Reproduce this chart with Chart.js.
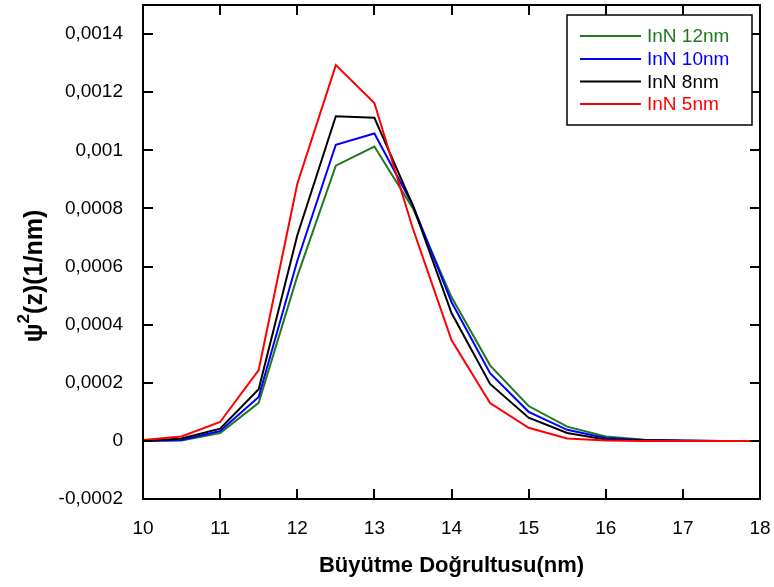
<!DOCTYPE html>
<html><head><meta charset="utf-8">
<script src="https://cdn.jsdelivr.net/npm/chart.js@4/dist/chart.umd.min.js"></script>
<style>html,body{margin:0;padding:0;background:#fff}#wrap{width:774px;height:587px}</style>
</head><body><div id="wrap"><canvas id="c" width="774" height="587"></canvas></div>
<script>
const xValues = [10,10.5,11,11.5,12,12.5,13,13.5,14,14.5,15,15.5,16,16.5,17,17.5,18];
const inn12 = [0,0.000001,0.000027,0.000131,0.000566,0.000947,0.001013,0.0008,0.000495,0.00026,0.00012,0.000049,0.000015,0.000004,0.000001,0,0];
const inn10 = [0,0.000003,0.000034,0.000151,0.000619,0.001019,0.001058,0.00081,0.000478,0.000233,0.0001,0.000038,0.00001,0.000003,0.000001,0,0];
const inn8  = [0,0.000008,0.000042,0.000178,0.000707,0.001117,0.001112,0.00081,0.00044,0.000196,0.00008,0.000027,0.000005,0.000002,0,0,0];
const inn5  = [0.000003,0.000015,0.000065,0.000244,0.000884,0.001293,0.001163,0.00073,0.000347,0.00013,0.000045,0.000008,0.000001,0,0,0,0];
const seriesLabels = ['InN 12nm','InN 10nm','InN 8nm','InN 5nm'];
const seriesColors = ['#1e7a1e','#0000ff','#000000','#ff0000'];
const xTicks = [10,11,12,13,14,15,16,17,18];
const yTicks = [-0.0002,0,0.0002,0.0004,0.0006,0.0008,0.001,0.0012,0.0014];
const yTickLabels = ['-0,0002','0','0,0002','0,0004','0,0006','0,0008','0,001','0,0012','0,0014'];
const xTitle = 'Büyütme Doğrultusu(nm)';
const yTitleParts = ['ψ', '2', '(z)(1/nm)'];

const seriesData = [inn12, inn10, inn8, inn5];
const datasets = seriesData.map((arr, i) => ({
  label: seriesLabels[i],
  data: arr.map((v, j) => ({x: xValues[j], y: v})),
  borderColor: seriesColors[i],
  backgroundColor: seriesColors[i],
  borderWidth: 2,
  pointRadius: 0,
  tension: 0,
  fill: false,
  order: seriesData.length - i
}));

const FONT = '"Liberation Sans", Arial, sans-serif';

const framePlugin = {
  id: 'frame',
  afterDraw(chart) {
    const {ctx, chartArea: a, scales: {x, y}} = chart;
    ctx.save();
    ctx.strokeStyle = '#000';
    ctx.lineWidth = 2;
    ctx.strokeRect(a.left, a.top, a.right - a.left, a.bottom - a.top);
    const L = 10;
    ctx.beginPath();
    xTicks.forEach(v => {
      const px = Math.round(x.getPixelForValue(v));
      ctx.moveTo(px, a.bottom); ctx.lineTo(px, a.bottom - L);
      ctx.moveTo(px, a.top); ctx.lineTo(px, a.top + L);
    });
    yTicks.forEach(v => {
      const py = Math.round(y.getPixelForValue(v));
      ctx.moveTo(a.left, py); ctx.lineTo(a.left + L, py);
      ctx.moveTo(a.right, py); ctx.lineTo(a.right - L, py);
    });
    ctx.stroke();

    // legend
    const bx = 567, by = 15, bw = 185, bh = 110;
    ctx.fillStyle = '#fff';
    ctx.fillRect(bx, by, bw, bh);
    ctx.lineWidth = 1.5;
    ctx.strokeRect(bx, by, bw, bh);
    ctx.font = '19px ' + FONT;
    ctx.textBaseline = 'middle';
    ctx.textAlign = 'left';
    const rows = [36, 59, 81.5, 104];
    chart.data.datasets.forEach((ds, i) => {
      const ry = rows[i];
      ctx.strokeStyle = ds.borderColor;
      ctx.lineWidth = 2;
      ctx.beginPath();
      ctx.moveTo(580, ry); ctx.lineTo(641, ry);
      ctx.stroke();
      ctx.fillStyle = ds.borderColor;
      ctx.fillText(ds.label, 647, ry + 1);
    });

    // y title (rotated, with superscript)
    ctx.translate(34, 276);
    ctx.rotate(-Math.PI / 2);
    ctx.fillStyle = '#000';
    ctx.textBaseline = 'alphabetic';
    ctx.textAlign = 'left';
    const big = 'bold 25px ' + FONT, small = 'bold 17px ' + FONT;
    ctx.font = big; const w0 = ctx.measureText(yTitleParts[0]).width;
    ctx.font = small; const w1 = ctx.measureText(yTitleParts[1]).width;
    ctx.font = big; const w2 = ctx.measureText(yTitleParts[2]).width;
    let cx = -(w0 + w1 + w2) / 2;
    const base = 8;
    ctx.font = big; ctx.fillText(yTitleParts[0], cx, base); cx += w0;
    ctx.font = small; ctx.fillText(yTitleParts[1], cx, base - 13); cx += w1;
    ctx.font = big; ctx.fillText(yTitleParts[2], cx, base);
    ctx.restore();
  }
};

new Chart(document.getElementById('c'), {
  type: 'line',
  data: { datasets },
  options: {
    responsive: false,
    animation: false,
    devicePixelRatio: 1,
    layout: { padding: { left: 0, right: 14, top: 5, bottom: 0 } },
    plugins: { legend: { display: false }, tooltip: { enabled: false } },
    scales: {
      x: {
        type: 'linear', min: 10, max: 18,
        afterBuildTicks: s => { s.ticks = xTicks.map(v => ({value: v})); },
        afterFit: s => { s.height = 88; s.paddingLeft = 0; s.paddingRight = 0; s.paddingTop = 0; s.paddingBottom = 0; },
        grid: { display: false, drawTicks: false },
        border: { display: false },
        ticks: { color: '#000', font: { family: FONT, size: 19 }, padding: 18, maxRotation: 0, autoSkip: false,
          callback: v => String(v) },
        title: { display: true, text: xTitle, color: '#000', font: { family: FONT, size: 22, weight: 'bold' }, padding: { top: 0, bottom: 8 } }
      },
      y: {
        type: 'linear', min: -0.0002, max: 0.0015,
        afterBuildTicks: s => { s.ticks = yTicks.map(v => ({value: v})); },
        afterFit: s => { s.width = 143; s.paddingLeft = 0; s.paddingRight = 0; s.paddingTop = 0; s.paddingBottom = 0; },
        grid: { display: false, drawTicks: false },
        border: { display: false },
        ticks: { color: '#000', font: { family: FONT, size: 19 }, padding: 20, autoSkip: false,
          callback: v => { const i = yTicks.findIndex(t => Math.abs(t - v) < 1e-9); return i >= 0 ? yTickLabels[i] : ''; } },
        title: { display: false }
      }
    }
  },
  plugins: [framePlugin]
});
</script>
</body></html>
